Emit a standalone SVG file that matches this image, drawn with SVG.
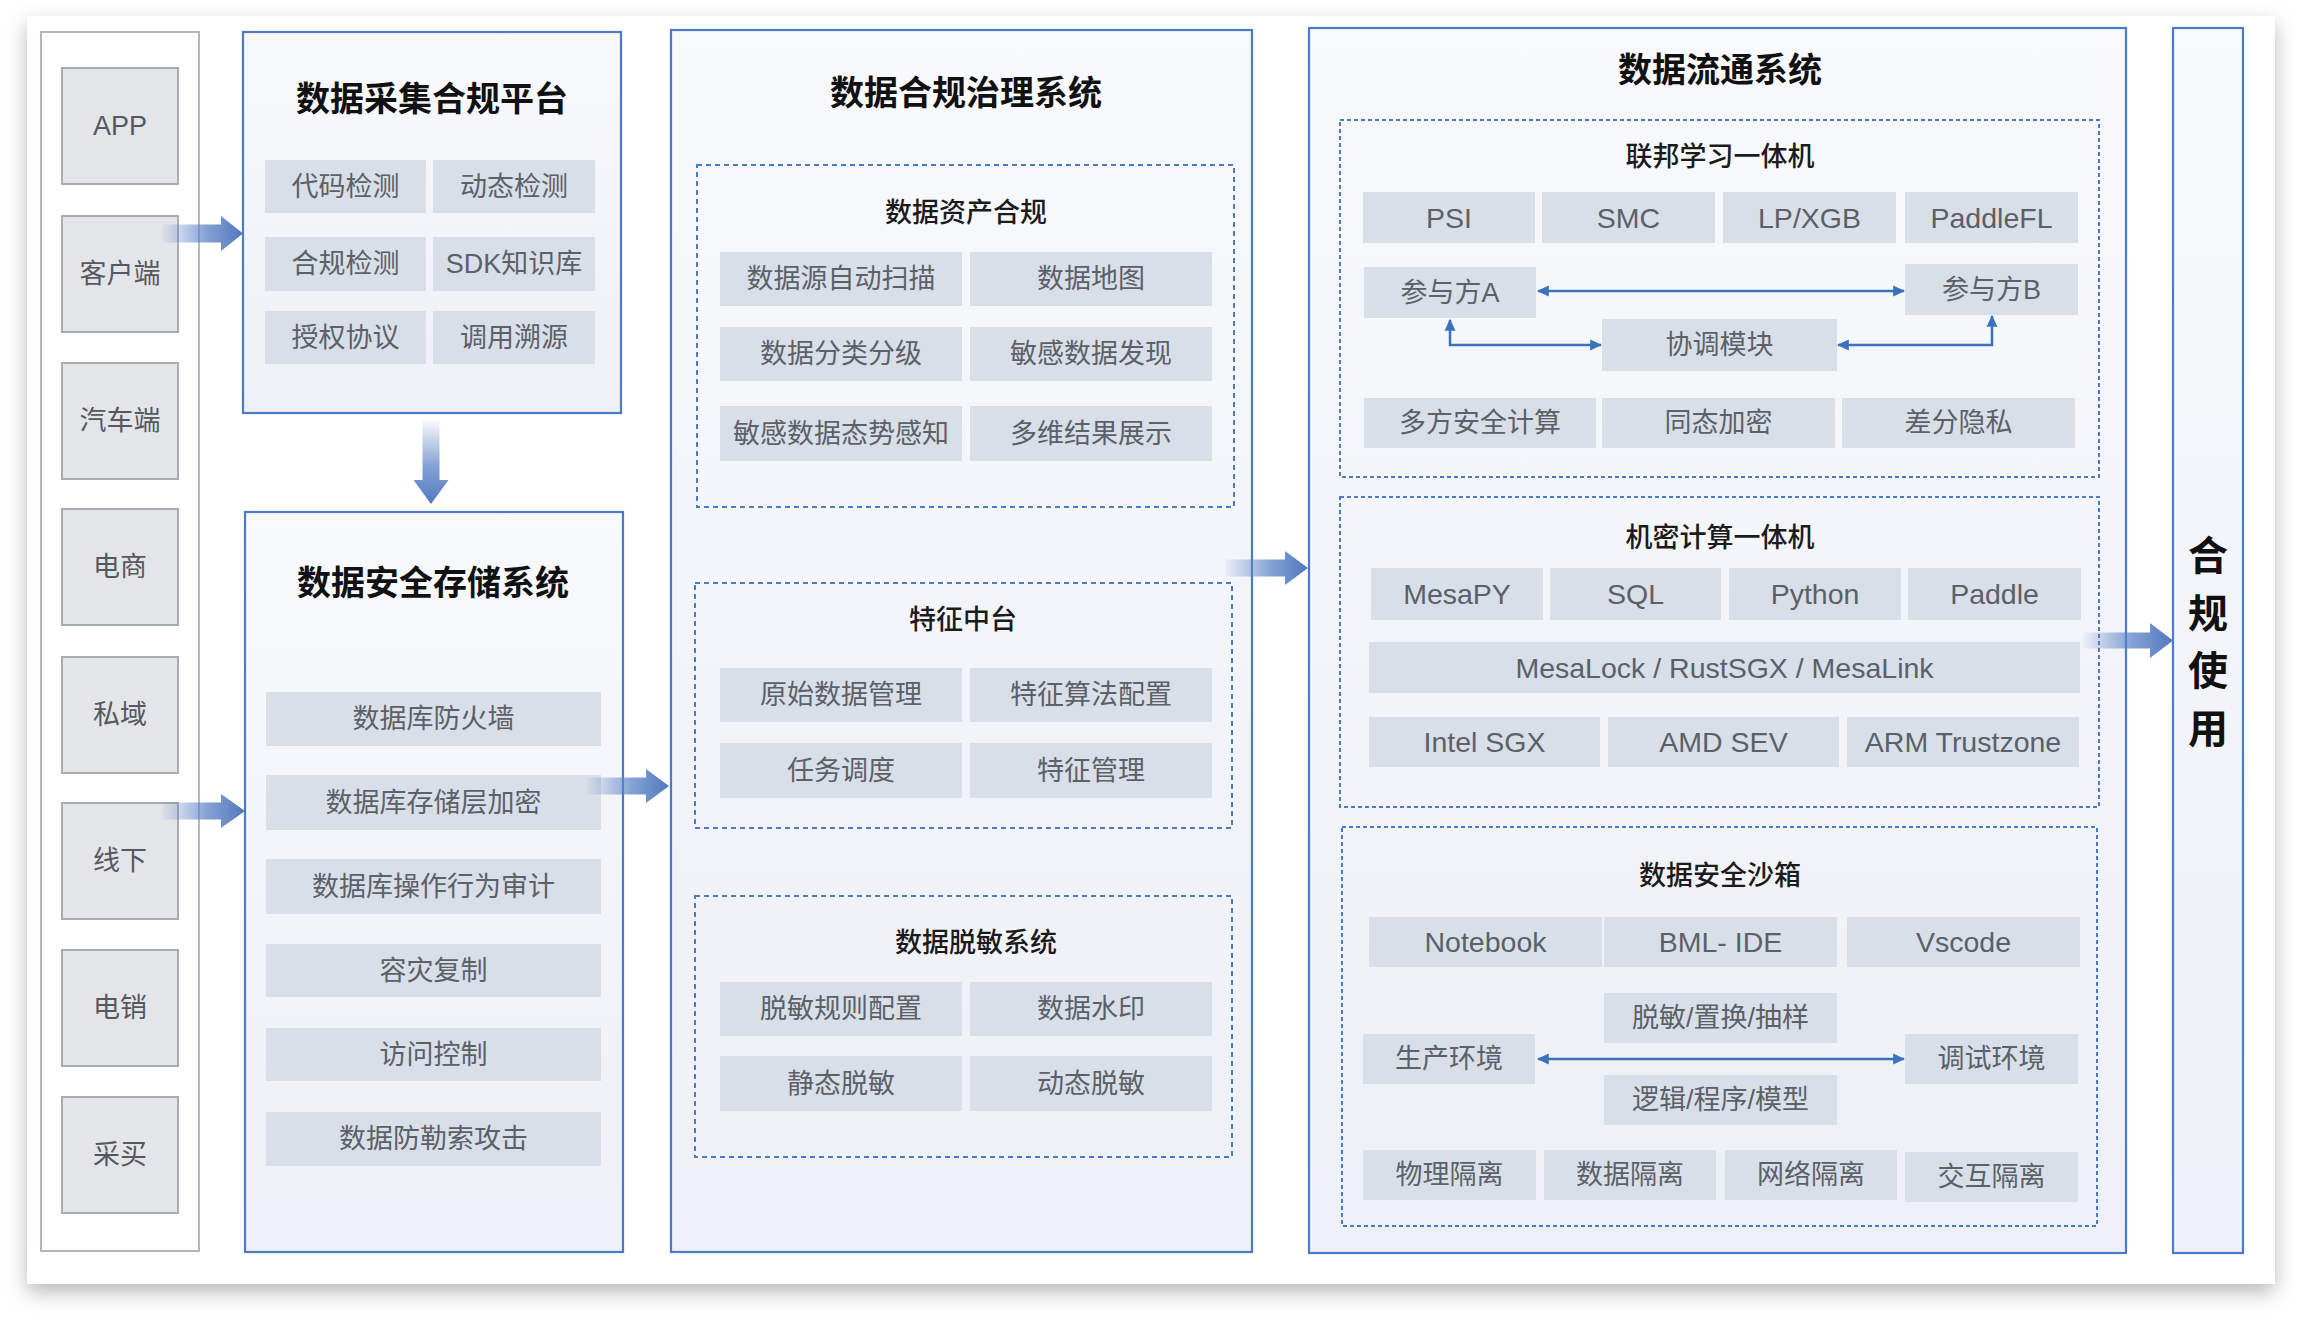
<svg xmlns="http://www.w3.org/2000/svg" width="2302" height="1323" viewBox="0 0 2302 1323">
<defs>
<style>
.src{fill:#e4e5e9;stroke:#a7acb3;stroke-width:2}
.srct{font-family:"Liberation Sans","Noto Sans CJK SC",sans-serif;font-size:27px;fill:#55595f;text-anchor:middle;dominant-baseline:central}
.main{fill:url(#mainGrad);stroke:#4a7bc6;stroke-width:2.2}
.title{font-family:"Noto Sans CJK SC",sans-serif;font-weight:700;font-size:34px;fill:#111;text-anchor:middle;dominant-baseline:central}
.sub{font-family:"Noto Sans CJK SC",sans-serif;font-weight:500;font-size:27px;fill:#1b1b1b;text-anchor:middle;dominant-baseline:central}
.cell{fill:#d9dfe8}
.ct{font-family:"Liberation Sans","Noto Sans CJK SC",sans-serif;font-size:27px;fill:#5c6067;text-anchor:middle;dominant-baseline:central}
.lt{font-size:28.5px}
.dash1{fill:none;stroke:#4a7bc6;stroke-width:2;stroke-dasharray:5 4}
.dash2{fill:none;stroke:#4a7bc6;stroke-width:2;stroke-dasharray:4 3}
.thin{fill:none;stroke:#3a72bc;stroke-width:2.5;marker-start:url(#ah);marker-end:url(#ah)}
.fat{fill:url(#hGrad)}
</style>
<linearGradient id="mainGrad" x1="0" y1="0" x2="0" y2="1">
<stop offset="0" stop-color="#f8f9fc"/>
<stop offset="1" stop-color="#eef0f7"/>
</linearGradient>
<linearGradient id="hGrad" x1="0" y1="0" x2="1" y2="0">
<stop offset="0" stop-color="#5b82c5" stop-opacity="0.05"/>
<stop offset="0.55" stop-color="#5b82c5" stop-opacity="0.75"/>
<stop offset="1" stop-color="#5177be"/>
</linearGradient>
<linearGradient id="vGrad" x1="0" y1="0" x2="0" y2="1">
<stop offset="0" stop-color="#5b82c5" stop-opacity="0.05"/>
<stop offset="0.55" stop-color="#5b82c5" stop-opacity="0.75"/>
<stop offset="1" stop-color="#5177be"/>
</linearGradient>
<marker id="ah" viewBox="0 0 10 10" refX="9" refY="5" markerWidth="12" markerHeight="12" markerUnits="userSpaceOnUse" orient="auto-start-reverse">
<path d="M0,0.5 L10,5 L0,9.5 z" fill="#3a72bc"/>
</marker>
<filter id="shadow" x="-5%" y="-5%" width="110%" height="115%">
<feDropShadow dx="0" dy="8" stdDeviation="10" flood-color="#000" flood-opacity="0.28"/>
</filter>
</defs>

<rect x="0" y="0" width="2302" height="1323" fill="#ffffff"/>
<rect id="card" x="27" y="16" width="2248" height="1268" fill="#ffffff" filter="url(#shadow)"/>

<g id="sources">
<rect x="41" y="32" width="158" height="1219" fill="#ffffff" stroke="#b2b7bd" stroke-width="2"/>
<g id="src-app"><rect class="src" x="62" y="68" width="116" height="116"/><text class="srct" x="120" y="126">APP</text></g>
<g id="src-client"><rect class="src" x="62" y="216" width="116" height="116"/><text class="srct" x="120" y="274">客户端</text></g>
<g id="src-car"><rect class="src" x="62" y="363" width="116" height="116"/><text class="srct" x="120" y="421">汽车端</text></g>
<g id="src-ecom"><rect class="src" x="62" y="509" width="116" height="116"/><text class="srct" x="120" y="567">电商</text></g>
<g id="src-private"><rect class="src" x="62" y="657" width="116" height="116"/><text class="srct" x="120" y="715">私域</text></g>
<g id="src-offline"><rect class="src" x="62" y="803" width="116" height="116"/><text class="srct" x="120" y="861">线下</text></g>
<g id="src-telesales"><rect class="src" x="62" y="950" width="116" height="116"/><text class="srct" x="120" y="1008">电销</text></g>
<g id="src-purchase"><rect class="src" x="62" y="1097" width="116" height="116"/><text class="srct" x="120" y="1155">采买</text></g>
</g>

<g id="collection">
<rect class="main" x="243" y="32" width="378" height="381"/>
<text class="title" x="432" y="96">数据采集合规平台</text>
<rect class="cell" x="265" y="160" width="161" height="53"/><text class="ct" x="345.5" y="186.5">代码检测</text>
<rect class="cell" x="433" y="160" width="162" height="53"/><text class="ct" x="514" y="186.5">动态检测</text>
<rect class="cell" x="265" y="237" width="161" height="54"/><text class="ct" x="345.5" y="264">合规检测</text>
<rect class="cell" x="433" y="237" width="162" height="54"/><text class="ct" x="514" y="264">SDK知识库</text>
<rect class="cell" x="265" y="311" width="161" height="53"/><text class="ct" x="345.5" y="337.5">授权协议</text>
<rect class="cell" x="433" y="311" width="162" height="53"/><text class="ct" x="514" y="337.5">调用溯源</text>
</g>

<g id="storage">
<rect class="main" x="245" y="512" width="378" height="740"/>
<text class="title" x="433" y="580">数据安全存储系统</text>
<rect class="cell" x="266" y="692" width="335" height="54"/><text class="ct" x="433.5" y="719">数据库防火墙</text>
<rect class="cell" x="266" y="775" width="335" height="55"/><text class="ct" x="433.5" y="802.5">数据库存储层加密</text>
<rect class="cell" x="266" y="859" width="335" height="55"/><text class="ct" x="433.5" y="886.5">数据库操作行为审计</text>
<rect class="cell" x="266" y="944" width="335" height="53"/><text class="ct" x="433.5" y="970.5">容灾复制</text>
<rect class="cell" x="266" y="1028" width="335" height="53"/><text class="ct" x="433.5" y="1054.5">访问控制</text>
<rect class="cell" x="266" y="1112" width="335" height="54"/><text class="ct" x="433.5" y="1139">数据防勒索攻击</text>
</g>

<g id="governance">
<rect class="main" x="671" y="30" width="581" height="1222"/>
<text class="title" x="966" y="90">数据合规治理系统</text>
<g id="asset-compliance">
<rect class="dash1" x="697" y="165" width="537" height="342"/>
<text class="sub" x="966" y="210">数据资产合规</text>
<rect class="cell" x="720" y="252" width="242" height="54"/><text class="ct" x="841" y="279">数据源自动扫描</text>
<rect class="cell" x="970" y="252" width="242" height="54"/><text class="ct" x="1091" y="279">数据地图</text>
<rect class="cell" x="720" y="327" width="242" height="54"/><text class="ct" x="841" y="354">数据分类分级</text>
<rect class="cell" x="970" y="327" width="242" height="54"/><text class="ct" x="1091" y="354">敏感数据发现</text>
<rect class="cell" x="720" y="406" width="242" height="55"/><text class="ct" x="841" y="433.5">敏感数据态势感知</text>
<rect class="cell" x="970" y="406" width="242" height="55"/><text class="ct" x="1091" y="433.5">多维结果展示</text>
</g>
<g id="feature-platform">
<rect class="dash1" x="695" y="583" width="537" height="245"/>
<text class="sub" x="963" y="617">特征中台</text>
<rect class="cell" x="720" y="668" width="242" height="54"/><text class="ct" x="841" y="695">原始数据管理</text>
<rect class="cell" x="970" y="668" width="242" height="54"/><text class="ct" x="1091" y="695">特征算法配置</text>
<rect class="cell" x="720" y="743" width="242" height="55"/><text class="ct" x="841" y="770.5">任务调度</text>
<rect class="cell" x="970" y="743" width="242" height="55"/><text class="ct" x="1091" y="770.5">特征管理</text>
</g>
<g id="desensitization">
<rect class="dash1" x="695" y="896" width="537" height="261"/>
<text class="sub" x="976" y="940">数据脱敏系统</text>
<rect class="cell" x="720" y="982" width="242" height="54"/><text class="ct" x="841" y="1009">脱敏规则配置</text>
<rect class="cell" x="970" y="982" width="242" height="54"/><text class="ct" x="1091" y="1009">数据水印</text>
<rect class="cell" x="720" y="1056" width="242" height="55"/><text class="ct" x="841" y="1083.5">静态脱敏</text>
<rect class="cell" x="970" y="1056" width="242" height="55"/><text class="ct" x="1091" y="1083.5">动态脱敏</text>
</g>
</g>

<g id="circulation">
<rect class="main" x="1309" y="28" width="817" height="1225"/>
<text class="title" x="1720" y="67">数据流通系统</text>
<g id="federated">
<rect class="dash2" x="1340" y="120" width="759" height="357"/>
<text class="sub" x="1720" y="154">联邦学习一体机</text>
<rect class="cell" x="1363" y="192" width="172" height="51"/><text class="ct lt" x="1449" y="217.5">PSI</text>
<rect class="cell" x="1542" y="192" width="173" height="51"/><text class="ct lt" x="1628.5" y="217.5">SMC</text>
<rect class="cell" x="1723" y="192" width="173" height="51"/><text class="ct lt" x="1809.5" y="217.5">LP/XGB</text>
<rect class="cell" x="1905" y="192" width="173" height="51"/><text class="ct lt" x="1991.5" y="217.5">PaddleFL</text>
<g id="party-a"><rect class="cell" x="1364" y="267" width="172" height="51"/><text class="ct" x="1450" y="292.5">参与方A</text></g>
<g id="party-b"><rect class="cell" x="1905" y="264" width="173" height="51"/><text class="ct" x="1991.5" y="289.5">参与方B</text></g>
<g id="coord"><rect class="cell" x="1602" y="319" width="235" height="52"/><text class="ct" x="1719.5" y="345">协调模块</text></g>
<rect class="cell" x="1364" y="398" width="232" height="50"/><text class="ct" x="1480" y="423">多方安全计算</text>
<rect class="cell" x="1602" y="398" width="233" height="50"/><text class="ct" x="1718.5" y="423">同态加密</text>
<rect class="cell" x="1842" y="398" width="233" height="50"/><text class="ct" x="1958.5" y="423">差分隐私</text>
</g>
<g id="confidential">
<rect class="dash2" x="1340" y="497" width="759" height="310"/>
<text class="sub" x="1720" y="535">机密计算一体机</text>
<rect class="cell" x="1371" y="568" width="172" height="52"/><text class="ct lt" x="1457" y="594">MesaPY</text>
<rect class="cell" x="1550" y="568" width="171" height="52"/><text class="ct lt" x="1635.5" y="594">SQL</text>
<rect class="cell" x="1729" y="568" width="172" height="52"/><text class="ct lt" x="1815" y="594">Python</text>
<rect class="cell" x="1908" y="568" width="173" height="52"/><text class="ct lt" x="1994.5" y="594">Paddle</text>
<rect class="cell" x="1369" y="642" width="711" height="51"/><text class="ct lt" x="1724.5" y="667.5">MesaLock / RustSGX / MesaLink</text>
<rect class="cell" x="1369" y="717" width="231" height="50"/><text class="ct lt" x="1484.5" y="742">Intel SGX</text>
<rect class="cell" x="1608" y="717" width="231" height="50"/><text class="ct lt" x="1723.5" y="742">AMD SEV</text>
<rect class="cell" x="1847" y="717" width="232" height="50"/><text class="ct lt" x="1963" y="742">ARM Trustzone</text>
</g>
<g id="sandbox">
<rect class="dash2" x="1342" y="827" width="755" height="399"/>
<text class="sub" x="1720" y="873">数据安全沙箱</text>
<rect class="cell" x="1369" y="917" width="233" height="50"/><text class="ct lt" x="1485.5" y="942">Notebook</text>
<rect class="cell" x="1604" y="917" width="233" height="50"/><text class="ct lt" x="1720.5" y="942">BML- IDE</text>
<rect class="cell" x="1847" y="917" width="233" height="50"/><text class="ct lt" x="1963.5" y="942">Vscode</text>
<rect class="cell" x="1604" y="993" width="233" height="50"/><text class="ct" x="1720.5" y="1018">脱敏/置换/抽样</text>
<g id="prod-env"><rect class="cell" x="1363" y="1034" width="172" height="50"/><text class="ct" x="1449" y="1059">生产环境</text></g>
<g id="debug-env"><rect class="cell" x="1905" y="1034" width="173" height="50"/><text class="ct" x="1991.5" y="1059">调试环境</text></g>
<rect class="cell" x="1604" y="1075" width="233" height="50"/><text class="ct" x="1720.5" y="1100">逻辑/程序/模型</text>
<rect class="cell" x="1363" y="1150" width="173" height="50"/><text class="ct" x="1449.5" y="1175">物理隔离</text>
<rect class="cell" x="1544" y="1150" width="172" height="50"/><text class="ct" x="1630" y="1175">数据隔离</text>
<rect class="cell" x="1725" y="1150" width="172" height="50"/><text class="ct" x="1811" y="1175">网络隔离</text>
<rect class="cell" x="1905" y="1152" width="173" height="50"/><text class="ct" x="1991.5" y="1177">交互隔离</text>
</g>
</g>

<g id="compliance-use">
<rect class="main" x="2173" y="28" width="70" height="1225"/>
<text font-family="Noto Sans CJK SC, sans-serif" font-weight="700" font-size="40" fill="#111" text-anchor="middle" dominant-baseline="central"><tspan x="2208" y="553">合</tspan><tspan x="2208" y="611">规</tspan><tspan x="2208" y="668">使</tspan><tspan x="2208" y="726">用</tspan></text>
</g>

<g id="connectors">
<polygon class="fat" points="162,224.5 221,224.5 221,216 243,233.5 221,251 221,242.5 162,242.5"/>
<polygon class="fat" points="162,802.5 221,802.5 221,794 245,811 221,828 221,819.5 162,819.5"/>
<polygon class="fat" points="587,777.5 646,777.5 646,769 669,786 646,803 646,794.5 587,794.5"/>
<polygon class="fat" points="1225,559.5 1285,559.5 1285,551 1308,568 1285,585 1285,576.5 1225,576.5"/>
<polygon class="fat" points="2083,632.5 2150,632.5 2150,623 2173,640.5 2150,658 2150,648.5 2083,648.5"/>
<polygon fill="url(#vGrad)" points="422.5,421 439.5,421 439.5,480 448.5,480 431,504 413.5,480 422.5,480"/>
<path class="thin" d="M1538,291 L1904,291"/>
<path class="thin" d="M1450,320 L1450,345 L1601,345"/>
<path class="thin" d="M1838,345 L1992,345 L1992,316"/>
<path class="thin" d="M1538,1059 L1904,1059"/>
</g>
</svg>
